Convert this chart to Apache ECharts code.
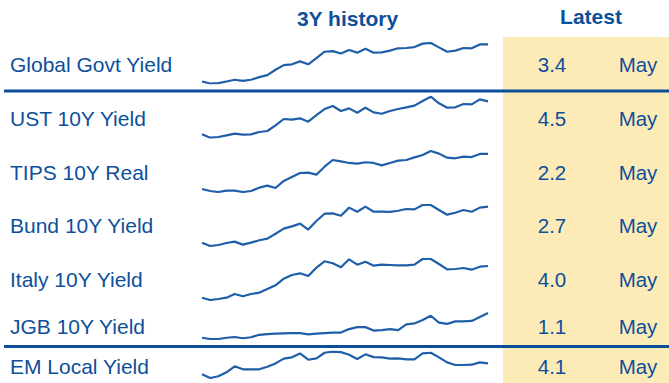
<!DOCTYPE html>
<html>
<head>
<meta charset="utf-8">
<script src="https://cdn.jsdelivr.net/npm/echarts@6/dist/echarts.min.js"></script>
<style>
  html, body {margin: 0; padding: 0; background: #fff;}
  #chart {width: 669px; height: 383px;}
</style>
</head>
<body>
<div id="chart"></div>
<script>
// monthly points, 3 years
const months = [
  'Jun 21', 'Jul 21', 'Aug 21', 'Sep 21', 'Oct 21', 'Nov 21', 'Dec 21',
  'Jan 22', 'Feb 22', 'Mar 22', 'Apr 22', 'May 22', 'Jun 22', 'Jul 22', 'Aug 22', 'Sep 22', 'Oct 22', 'Nov 22', 'Dec 22',
  'Jan 23', 'Feb 23', 'Mar 23', 'Apr 23', 'May 23', 'Jun 23', 'Jul 23', 'Aug 23', 'Sep 23', 'Oct 23', 'Nov 23', 'Dec 23',
  'Jan 24', 'Feb 24', 'Mar 24', 'Apr 24', 'May 24'
];

const globalGovt = [1.03, 0.90, 0.92, 1.03, 1.14, 1.07, 1.14, 1.31, 1.44, 1.78, 2.08, 2.13, 2.32, 2.13, 2.53, 2.94, 2.98, 2.83,
  3.05, 2.88, 3.13, 2.88, 2.90, 3.01, 3.16, 3.18, 3.24, 3.46, 3.50, 3.22, 2.94, 3.01, 3.18, 3.16, 3.41, 3.41];
const ust10y = [1.52, 1.22, 1.28, 1.43, 1.58, 1.49, 1.52, 1.73, 1.82, 2.32, 2.89, 2.83, 2.95, 2.65, 3.24, 3.78, 4.05, 3.60,
  3.84, 3.45, 3.90, 3.48, 3.36, 3.60, 3.78, 3.93, 4.08, 4.49, 4.88, 4.29, 3.90, 3.93, 4.23, 4.20, 4.64, 4.46];
const tips10y = [-0.84, -1.01, -1.10, -0.98, -0.98, -1.10, -1.01, -0.72, -0.54, -0.75, -0.13, 0.22, 0.57, 0.60, 0.42, 1.12, 1.71, 1.59,
  1.45, 1.39, 1.51, 1.45, 1.24, 1.45, 1.65, 1.71, 1.94, 2.15, 2.50, 2.27, 1.91, 1.86, 2.00, 1.97, 2.24, 2.24];
const bund10y = [-0.18, -0.45, -0.37, -0.21, -0.10, -0.34, -0.18, 0.01, 0.14, 0.54, 0.95, 1.13, 1.35, 0.87, 1.56, 2.15, 2.18, 1.99,
  2.64, 2.31, 2.72, 2.31, 2.31, 2.29, 2.39, 2.53, 2.50, 2.85, 2.85, 2.45, 2.07, 2.23, 2.45, 2.31, 2.64, 2.72];
const italy10y = [0.83, 0.60, 0.70, 0.83, 1.20, 0.97, 1.20, 1.33, 1.70, 2.07, 2.73, 3.10, 3.27, 3.00, 3.83, 4.47, 4.27, 3.87,
  4.67, 4.13, 4.43, 4.03, 4.13, 4.10, 4.07, 4.07, 4.13, 4.70, 4.70, 4.20, 3.67, 3.70, 3.80, 3.63, 3.93, 4.00];
const jgb10y = [0.07, 0.02, 0.02, 0.07, 0.10, 0.05, 0.09, 0.19, 0.22, 0.24, 0.25, 0.26, 0.26, 0.21, 0.24, 0.26, 0.28, 0.28,
  0.42, 0.50, 0.50, 0.36, 0.38, 0.42, 0.38, 0.61, 0.65, 0.79, 0.96, 0.68, 0.63, 0.73, 0.73, 0.75, 0.91, 1.07];
const emLocal = [3.28, 3.00, 3.13, 3.43, 3.89, 3.66, 3.66, 3.66, 3.86, 4.11, 4.47, 4.57, 4.87, 4.39, 4.49, 4.92, 5.00, 4.97,
  4.77, 4.44, 4.80, 4.59, 4.57, 4.47, 4.49, 4.42, 4.42, 4.87, 4.92, 4.57, 4.19, 3.99, 3.99, 4.01, 4.19, 4.11];

const rowLabels = ['Global Govt Yield', 'UST 10Y Yield', 'TIPS 10Y Real', 'Bund 10Y Yield', 'Italy 10Y Yield', 'JGB 10Y Yield', 'EM Local Yield'];
const latestValues = ['3.4', '4.5', '2.2', '2.7', '4.0', '1.1', '4.1'];
const latestMonths = ['May', 'May', 'May', 'May', 'May', 'May', 'May'];
const headers = ['3Y history', 'Latest'];

const seriesData = [globalGovt, ust10y, tips10y, bund10y, italy10y, jgb10y, emLocal];

// layout of each row: sparkline box and text centre line
const rows = [
  {top: 43, height: 40.5, textY: 64},
  {top: 96.7, height: 41, textY: 118.5},
  {top: 151, height: 41, textY: 172},
  {top: 205, height: 41, textY: 225.5},
  {top: 259, height: 41, textY: 279},
  {top: 313, height: 26, textY: 326.5},
  {top: 351.7, height: 26.3, textY: 366}
];

const blue = '#0d4f9b';
const lineBlue = '#1f5ea8';
const font = '"Liberation Sans", Arial, sans-serif';

const textEl = (x, y, text, align, opts = {}) => ({
  type: 'text',
  x, y,
  silent: true,
  style: {
    text,
    x: 0, y: 0,
    align,
    verticalAlign: 'middle',
    fill: blue,
    font: (opts.bold ? 'bold ' : '') + (opts.size || 21) + 'px ' + font
  },
  z: 10
});

const chart = echarts.init(document.getElementById('chart'), null, {renderer: 'svg'});

chart.setOption({
  animation: false,
  backgroundColor: '#fff',
  grid: rows.map(r => ({left: 202, width: 286, top: r.top, height: r.height})),
  xAxis: rows.map((r, i) => ({
    type: 'category',
    gridIndex: i,
    data: months,
    boundaryGap: false,
    show: false
  })),
  yAxis: rows.map((r, i) => ({
    type: 'value',
    gridIndex: i,
    min: 'dataMin',
    max: 'dataMax',
    show: false
  })),
  series: seriesData.map((data, i) => ({
    name: rowLabels[i],
    type: 'line',
    xAxisIndex: i,
    yAxisIndex: i,
    data,
    symbol: 'none',
    smooth: false,
    lineStyle: {color: lineBlue, width: 2.2}
  })),
  graphic: [
    {
      type: 'rect',
      silent: true,
      z: -10,
      shape: {x: 503, y: 37, width: 166, height: 346},
      style: {fill: '#fcebb7'}
    },
    {
      type: 'rect',
      silent: true,
      z: 5,
      shape: {x: 4, y: 89.5, width: 665, height: 3},
      style: {fill: '#0a4f97'}
    },
    {
      type: 'rect',
      silent: true,
      z: 5,
      shape: {x: 4, y: 345, width: 665, height: 3},
      style: {fill: '#0a4f97'}
    },
    textEl(347.5, 18, headers[0], 'center', {bold: true}),
    textEl(591, 16.5, headers[1], 'center', {bold: true}),
    ...rowLabels.map((t, i) => textEl(10, rows[i].textY, t, 'left')),
    ...latestValues.map((t, i) => textEl(552, rows[i].textY, t, 'center', {size: 20.5})),
    ...latestMonths.map((t, i) => textEl(638, rows[i].textY, t, 'center', {size: 20.5}))
  ]
});
</script>
</body>
</html>
